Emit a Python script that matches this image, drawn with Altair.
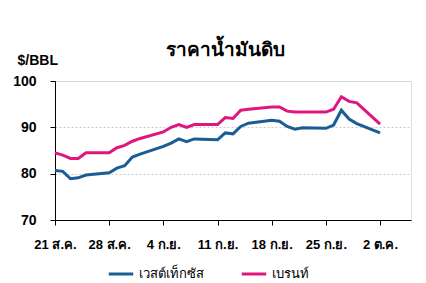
import altair as alt
import pandas as pd

dates = ["2023-08-21", "2023-08-22", "2023-08-23", "2023-08-24", "2023-08-25",
         "2023-08-28", "2023-08-29", "2023-08-30", "2023-08-31", "2023-09-01",
         "2023-09-04", "2023-09-05", "2023-09-06", "2023-09-07", "2023-09-08",
         "2023-09-11", "2023-09-12", "2023-09-13", "2023-09-14", "2023-09-15",
         "2023-09-18", "2023-09-19", "2023-09-20", "2023-09-21", "2023-09-22",
         "2023-09-25", "2023-09-26", "2023-09-27", "2023-09-28", "2023-09-29",
         "2023-10-02"]
wti = [80.7, 80.5, 78.9, 79.1, 79.7,
       80.2, 81.2, 81.7, 83.6, 84.2,
       85.9, 86.6, 87.5, 86.9, 87.5,
       87.3, 88.8, 88.6, 90.2, 90.9,
       91.5, 91.3, 90.2, 89.6, 89.9,
       89.8, 90.5, 93.7, 91.8, 90.8,
       88.8]
brent = [84.5, 84.0, 83.3, 83.3, 84.5,
         84.5, 85.6, 86.1, 87.0, 87.6,
         89.0, 90.0, 90.6, 90.0, 90.6,
         90.6, 92.1, 91.9, 93.7, 93.9,
         94.4, 94.4, 93.5, 93.3, 93.3,
         93.3, 93.9, 96.6, 95.6, 95.3,
         90.7]
series_names = ["เวสต์เท็กซัส", "เบรนท์"]
colors = ["#1a5c94", "#e0157f"]
tick_dates = ["2023-08-21", "2023-08-28", "2023-09-04", "2023-09-11",
              "2023-09-18", "2023-09-25", "2023-10-02"]

df = pd.concat([
    pd.DataFrame({"date": dates, "price": wti, "series": series_names[0]}),
    pd.DataFrame({"date": dates, "price": brent, "series": series_names[1]}),
])

def dt(s):
    y, m, d = map(int, s.split("-"))
    return alt.DateTime(year=y, month=m, date=d, utc=True)

label_expr = ("utcdate(datum.value) + ' ' + (utcmonth(datum.value) == 7 ? 'ส.ค.' : "
              "(utcmonth(datum.value) == 8 ? 'ก.ย.' : 'ต.ค.'))")

chart = alt.Chart(df).mark_line(strokeWidth=3).encode(
    x=alt.X("date:T",
            scale=alt.Scale(type="utc", domain=[dt("2023-08-21"), dt("2023-10-06")]),
            axis=alt.Axis(values=[dt(s) for s in tick_dates], labelExpr=label_expr,
                          title=None, grid=False, domainColor="black", tickColor="black",
                          tickSize=5, labelPadding=13, labelFontSize=13,
                          labelFontWeight="bold", labelColor="black",
                          labelFlush=False, labelOverlap=False)),
    y=alt.Y("price:Q",
            scale=alt.Scale(domain=[70, 100]),
            axis=alt.Axis(values=[70, 80, 90, 100], title="$/BBL", titleAngle=0,
                          titleX=-38, titleY=-14, titleAlign="left",
                          titleFontSize=14, titleFontWeight="bold", titleColor="black",
                          grid=True, gridDash=[2, 2], gridColor="#cccccc",
                          domainColor="black", tickColor="black", tickSize=5,
                          labelPadding=14, labelFontSize=14, labelFontWeight="bold",
                          labelColor="black")),
    color=alt.Color("series:N",
                    scale=alt.Scale(domain=series_names, range=colors),
                    sort=series_names,
                    legend=alt.Legend(title=None, orient="none", direction="horizontal",
                                      legendX=52, legendY=179, symbolType="stroke",
                                      symbolStrokeWidth=3, symbolSize=600,
                                      labelFontSize=13, columnPadding=31,
                                      labelColor="black")),
).properties(
    width=356, height=139,
    autosize=alt.AutoSizeParams(type="none"),
    padding={"left": 55, "top": 81, "right": 15, "bottom": 63},
    title=alt.TitleParams("ราคาน้ำมันดิบ", fontSize=19, fontWeight="bold",
                          anchor="middle", dx=-8, dy=27, offset=20, color="black"),
).configure_view(stroke=None).configure(background="white")

chart.save("out.html", embed_options={"renderer": "svg", "actions": False})
